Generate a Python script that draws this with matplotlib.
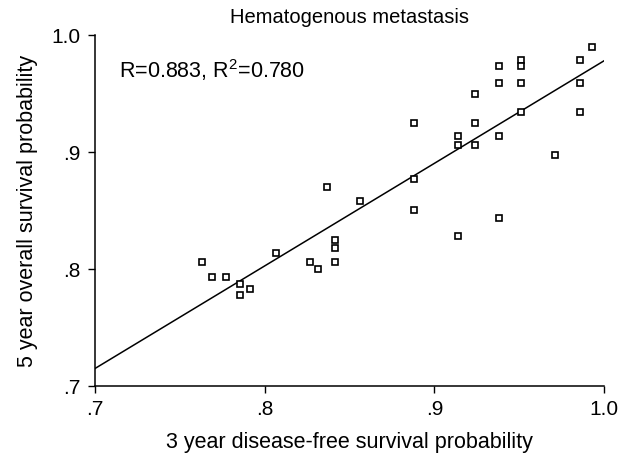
#!/usr/bin/env python3
# -*- coding: utf-8 -*-

import matplotlib
matplotlib.use("Agg")
import matplotlib.pyplot as plt
import numpy as np

# 3 year DFS vs 5 year OS
dfs_3yr = [
    0.993, 0.986, 0.986, 0.986, 0.951, 0.951, 0.951, 0.951,
    0.938, 0.938, 0.938, 0.938, 0.924, 0.924, 0.924, 0.914,
    0.914, 0.914, 0.888, 0.888, 0.888, 0.971, 0.856, 0.837,
    0.8416, 0.8416, 0.8416, 0.8267, 0.8314, 0.8067, 0.7629, 0.7693,
    0.777, 0.7853, 0.7853, 0.7915,
]
os_5yr = [
    0.990, 0.979, 0.959, 0.934, 0.979, 0.9735, 0.959, 0.934,
    0.9735, 0.959, 0.914, 0.844, 0.9496, 0.925, 0.906, 0.914,
    0.906, 0.828, 0.925, 0.877, 0.851, 0.898, 0.858, 0.870,
    0.825, 0.818, 0.806, 0.806, 0.800, 0.814, 0.806, 0.793,
    0.793, 0.787, 0.778, 0.783,
]
ticks = [0.7, 0.8, 0.9, 1.0]
tick_labels = [".7", ".8", ".9", "1.0"]
STATS_TEXT = "R=0.883, R$^2$=0.780"
TITLE = "Hematogenous metastasis"

FIG_W, FIG_H = 6.32, 4.57
DPI = 100
OUT_PNG = "out.png"


def main():
    plt.rcParams["font.family"] = ["Liberation Sans", "DejaVu Sans"]
    plt.rcParams["mathtext.fontset"] = "custom"
    plt.rcParams["mathtext.rm"] = "Liberation Sans"

    x = np.array(dfs_3yr)
    y = np.array(os_5yr)

    fig = plt.figure(figsize=(FIG_W, FIG_H), dpi=DPI)
    ax = fig.add_axes([0.150, 0.155, 0.806, 0.768])

    # least-squares line over the full x range
    slope, intercept = np.polyfit(x, y, 1)
    xx = np.array([0.7, 1.0])
    ax.plot(xx, intercept + slope * xx, color="black", linewidth=1.1)

    ax.plot(x, y, linestyle="none", marker="s", markersize=4.2,
            markerfacecolor="white", markeredgecolor="black",
            markeredgewidth=1.2)

    ax.set_xlim(0.7, 1.0)
    ax.set_ylim(0.7, 1.0)
    ax.set_xticks(ticks)
    ax.set_xticklabels(tick_labels)
    ax.set_yticks(ticks)
    ax.set_yticklabels(tick_labels)
    ax.tick_params(direction="out", length=5, width=1, labelsize=15)
    ax.tick_params(axis="x", pad=5)
    ax.tick_params(axis="y", pad=5)

    for side in ("top", "right"):
        ax.spines[side].set_visible(False)
    for side in ("left", "bottom"):
        ax.spines[side].set_linewidth(1.1)

    ax.set_xlabel("3 year disease-free survival probability", fontsize=15.5, labelpad=9)
    ax.set_ylabel("5 year overall survival probability", fontsize=15.5, labelpad=10)
    ax.set_title(TITLE, fontsize=14.5, pad=9)

    ax.text(0.714, 0.963, STATS_TEXT, fontsize=15.5, va="baseline", ha="left")

    fig.savefig(OUT_PNG, dpi=DPI)
    plt.close(fig)


if __name__ == "__main__":
    main()
